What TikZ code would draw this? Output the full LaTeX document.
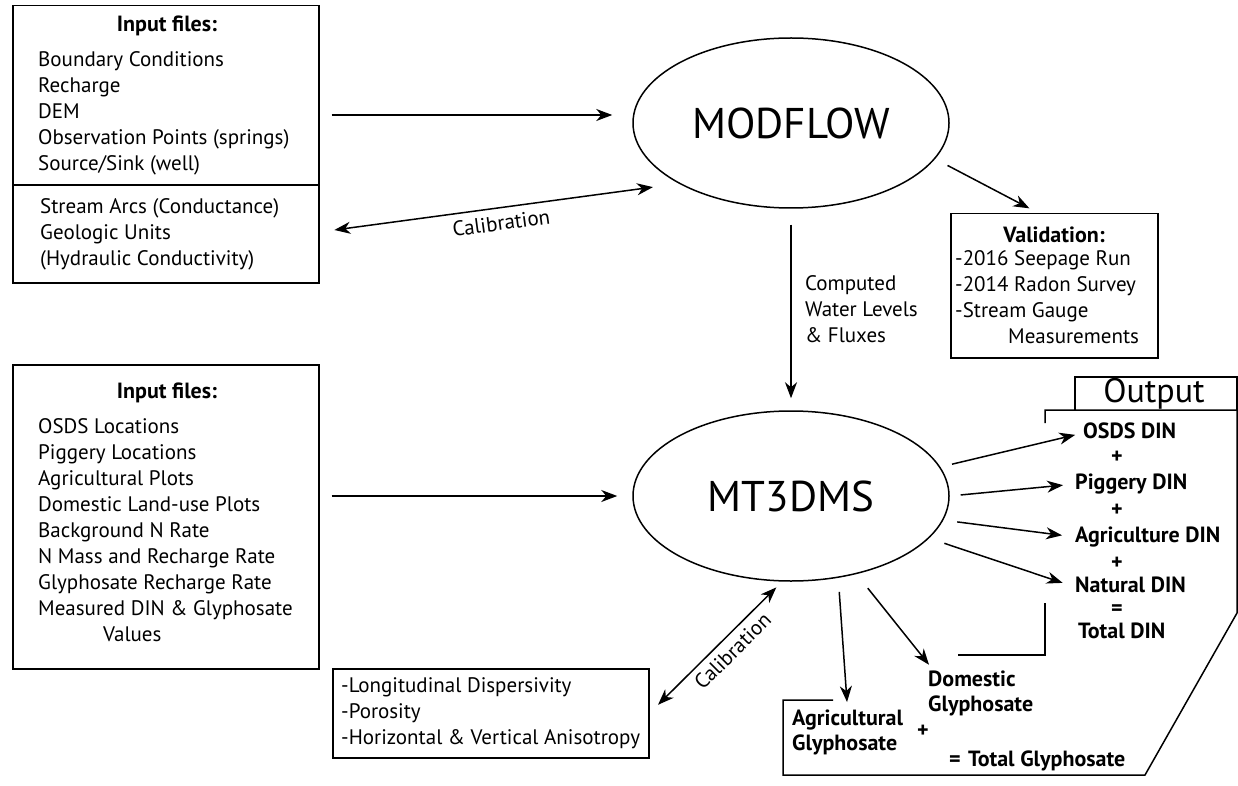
\documentclass[tikz,border=0pt]{standalone}
\usepackage{fontspec}
\setmainfont{PT Sans}
\usetikzlibrary{arrows.meta,positioning,shapes.geometric,calc}

\begin{document}
\begin{tikzpicture}[
        x=1pt, y=-1pt,
        box/.style={draw, line width=1.5pt, anchor=north west, inner sep=0pt},
        model/.style={draw, ellipse, line width=1.5pt, minimum width=316pt, minimum height=170pt,
            font=\fontsize{43}{43}\selectfont},
        item/.style={anchor=west, inner sep=0pt, text height=15pt, text depth=4pt,
            font=\fontsize{21}{26}\selectfont},
        hdr/.style={inner sep=0pt, font=\fontsize{22}{24}\selectfont\bfseries},
        res/.style={anchor=west, inner sep=0pt, text height=15pt, text depth=4pt,
            font=\fontsize{22}{25}\selectfont\bfseries},
        flow/.style={-{Stealth[length=16pt, width=12pt, inset=5pt]}, line width=1.5pt},
        calib/.style={{Stealth[length=16pt, width=12pt, inset=5pt]}-{Stealth[length=16pt, width=12pt, inset=5pt]},
            line width=1.5pt},
    ]
    \useasboundingbox (0,0) rectangle (1238,786);

    % Flow model inputs (top left)
    \node[box, minimum width=306pt, minimum height=277pt] (inflow) at (12,5) {};
    \draw[line width=1.5pt] (inflow.west |- 0,185) -- (inflow.east |- 0,185);
    \node[hdr] (inflowhdr) at (167,26) {Input files:};
    \foreach \t [count=\i] in {Boundary Conditions, Recharge, DEM,
        Observation Points (springs), Source/Sink (well)} {
        \node[item] (inflow\i) at (38,35+26*\i) {\t};
    }
    \foreach \t [count=\i] in {Stream Arcs (Conductance), Geologic Units,
        (Hydraulic Conductivity)} {
        \node[item] (incal\i) at (40,182+26*\i) {\t};
    }

    % Transport model inputs (bottom left)
    \node[box, minimum width=306pt, minimum height=304pt] (intrans) at (12,364) {};
    \node[hdr] (intranshdr) at (167,393) {Input files:};
    \foreach \t [count=\i] in {OSDS Locations, Piggery Locations, Agricultural Plots,
        Domestic Land-use Plots, Background N Rate, N Mass and Recharge Rate,
        Glyphosate Recharge Rate, Measured DIN \& Glyphosate} {
        \node[item] (intrans\i) at (38,402+26*\i) {\t};
    }
    \node[item] (intrans9) at (103,636) {Values};

    % Models
    \node[model] (modflow) at (791,123) {MODFLOW};
    \node[model] (mt3dms) at (791,496) {MT3DMS};

    % Validation data
    \node[box, minimum width=207pt, minimum height=144pt] (valid) at (950,213) {};
    \node[hdr] (validhdr) at (1054,235) {Validation:};
    \foreach \t [count=\i] in {-2016 Seepage Run, -2014 Radon Survey, -Stream Gauge} {
        \node[item] (valid\i) at (955,234+26*\i) {\t};
    }
    \node[item] (valid4) at (1008,338) {Measurements};

    % Transport calibration parameters
    \node[box, minimum width=316pt, minimum height=89pt] (param) at (332,668) {};
    \foreach \t [count=\i] in {-Longitudinal Dispersivity, -Porosity,
        -Horizontal \& Vertical Anisotropy} {
        \node[item] (param\i) at (341,661+26*\i) {\t};
    }

    % Computed heads label
    \node[item, align=left, anchor=north west, text height=, text depth=] (heads) at (805,275)
        {Computed\\Water Levels\\\& Fluxes};

    % Output frame
    \draw[line width=1.5pt] (1075,410) -- (1075,377) -- (1237,377) -- (1237,410);
    \node[inner sep=0pt, font=\fontsize{34}{34}\selectfont] (outlbl) at (1154,394) {Output};
    \draw[line width=1.5pt] (833,700) -- (783,700) -- (783,775) -- (1145,775)
        -- (1237,613) -- (1237,410) -- (1045,410) -- (1045,423);
    \draw[line width=1.5pt] (958,655) -- (1045,655) -- (1045,603);

    % Output results
    \node[res] (osds) at (1083,433) {OSDS DIN};
    \node[res] (piggery) at (1075,484) {Piggery DIN};
    \node[res] (agri) at (1075,537) {Agriculture DIN};
    \node[res] (natural) at (1075,587) {Natural DIN};
    \node[res] (totdin) at (1078,633) {Total DIN};
    \foreach \y/\s [count=\i] in {457/+, 510/+, 563/+, 610/=} {
        \node[hdr] (op\i) at (1117,\y) {\s};
    }
    \node[res, align=left, anchor=north west, text height=, text depth=] (domglyph) at (928,671)
        {Domestic\\Glyphosate};
    \node[res, align=left, anchor=north west, text height=, text depth=] (agglyph) at (792,710)
        {Agricultural\\Glyphosate};
    \node[hdr] (opglyph) at (923,731) {+};
    \node[res] (totglyph) at (949,761) {=\,\,Total Glyphosate};

    % Connectors
    \draw[flow, shorten <=12pt, shorten >=20pt] (inflow.east |- 0,115) -- (modflow.west |- 0,115);
    \draw[calib, shorten <=15pt, shorten >=26pt] (inflow.east |- 0,232) -- (modflow.south west)
        node[pos=0.5, sloped, below=7pt, inner sep=0pt, font=\fontsize{21}{24}\selectfont] (cal1) {Calibration};
    \draw[flow, shorten <=14pt, shorten >=10pt] (modflow.-14) -- ([xshift=-16pt]valid.north);
    \draw[flow, shorten <=16pt, shorten >=12pt] (modflow.south) -- (mt3dms.north);
    \draw[flow, shorten <=12pt, shorten >=15pt] (intrans.east |- mt3dms) -- (mt3dms.west);
    \draw[calib, shorten <=12pt, shorten >=8pt] (param.east) -- ([xshift=-9pt]mt3dms.south)
        node[pos=0.55, sloped, below=6pt, inner sep=0pt, font=\fontsize{21}{24}\selectfont] (cal2) {Calibration};
    \draw[flow, shorten <=12pt, shorten >=8pt] (mt3dms.11) -- (osds.west);
    \draw[flow, shorten <=11pt, shorten >=12pt] (mt3dms.0) -- (piggery.west);
    \draw[flow, shorten <=14pt, shorten >=13pt] (mt3dms.-9) -- (agri.west);
    \draw[flow, shorten <=16pt, shorten >=13pt] (mt3dms.-17) -- (natural.west);
    \draw[flow, shorten <=14pt, shorten >=8pt] (mt3dms.-60) -- (agglyph.north);
    \draw[flow, shorten <=18pt, shorten >=8pt] (mt3dms.-50) -- ([xshift=6pt]domglyph.north west);
\end{tikzpicture}
\end{document}
